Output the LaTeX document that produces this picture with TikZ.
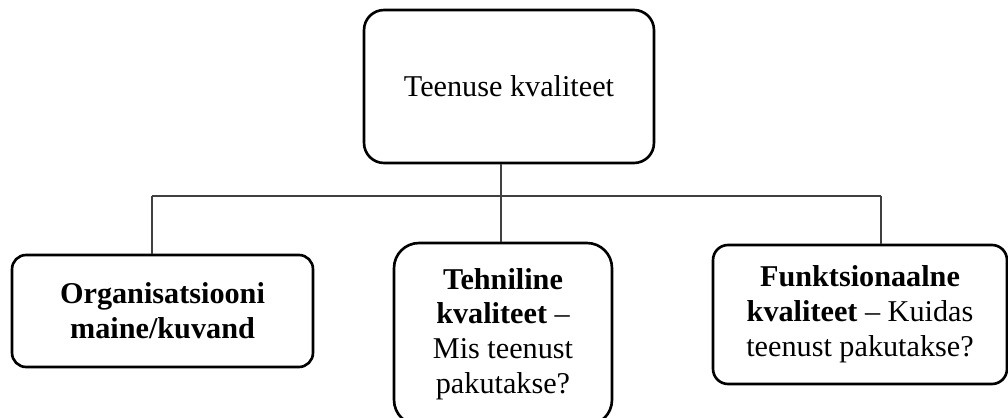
\documentclass[tikz,border=0pt]{standalone}
\usepackage{fontspec}
\setmainfont{Liberation Serif}
\usepackage{tikz}
\usetikzlibrary{calc}
\tikzset{
  qbox/.style={draw=black, line width=1.5pt, align=center, fill=white,
    inner sep=2pt, font=\fontsize{17.2}{19.8}\selectfont},
  lnk/.style={draw=black!75, line width=0.75pt}
}

\begin{document}
\begin{tikzpicture}[x=0.02cm, y=-0.02cm]
  \useasboundingbox (0,0) rectangle (1008,418);
  \def\yBus{196}
  \node[qbox, rounded corners=20*0.02cm, minimum width=5.8cm, minimum height=3.06cm]
    (kval) at (509,86.5) {Teenuse kvaliteet};
  \node[qbox, rounded corners=14*0.02cm, minimum width=6.02cm, minimum height=2.24cm]
    (org) at (162.5,311) {\textbf{Organisatsiooni}\\\textbf{maine/kuvand}};
  \node[qbox, rounded corners=25*0.02cm, minimum width=4.36cm, minimum height=3.64cm]
    (tehn) at (503,334) {\textbf{Tehniline}\\\textbf{kvaliteet} --\\Mis teenust\\pakutakse?};
  \node[qbox, rounded corners=15*0.02cm, minimum width=5.88cm, minimum height=2.78cm]
    (funk) at (860,314.5) {\textbf{Funktsionaalne}\\\textbf{kvaliteet} -- Kuidas\\teenust pakutakse?};

  \coordinate (jL) at (152,\yBus);
  \coordinate (jM) at (501,\yBus);
  \coordinate (jR) at (881,\yBus);

  \draw[lnk] (jM |- kval.south) -- (jM);
  \draw[lnk] (jL) -- (jR);
  \draw[lnk] (jL) -- (jL |- org.north);
  \draw[lnk] (jM) -- (jM |- tehn.north);
  \draw[lnk] (jR) -- (jR |- funk.north);
\end{tikzpicture}
\end{document}
